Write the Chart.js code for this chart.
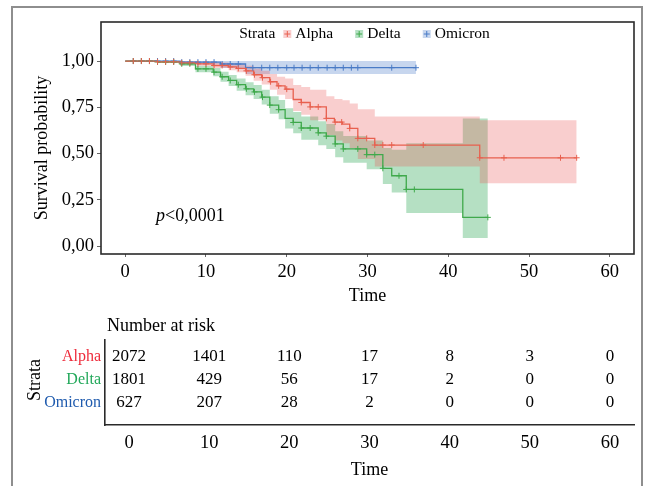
<!DOCTYPE html>
<html><head><meta charset="utf-8">
<script src="https://cdn.jsdelivr.net/npm/chart.js@4.4.1/dist/chart.umd.min.js"></script>
<style>
html,body{margin:0;padding:0;background:#fff;width:649px;height:486px;overflow:hidden;}
#frame{position:absolute;left:11px;top:6px;width:628px;height:600px;border:2px solid #8e8e8e;}
#c1{position:absolute;left:0;top:0;width:649px;height:310px;}
#c2{position:absolute;left:0;top:310px;width:649px;height:176px;}
</style></head><body>
<div id="frame"></div>
<canvas id="c1" width="649" height="310"></canvas>
<canvas id="c2" width="649" height="176"></canvas>
<script>
// ---------------- data ----------------
const strata = ['Alpha', 'Delta', 'Omicron'];
const xTicks = [0, 10, 20, 30, 40, 50, 60];
const yTicks = [0, 0.25, 0.5, 0.75, 1];

const alphaTime  = [0, 4, 7, 9, 10.9, 12.8, 13.8, 14.9, 15.9, 16.9, 17.9, 18.8, 19.8, 20.8, 21.8, 22.9, 24.9, 25.9, 26.9, 27.8, 28.8, 30.9, 43.9];
const alphaSurv  = [1, 0.996, 0.99, 0.985, 0.976, 0.968, 0.96, 0.947, 0.926, 0.91, 0.888, 0.866, 0.848, 0.792, 0.776, 0.752, 0.69, 0.67, 0.659, 0.636, 0.582, 0.546, 0.477];
const alphaUpper = [1, 1, 1, 0.998, 0.992, 0.987, 0.982, 0.975, 0.96, 0.948, 0.93, 0.915, 0.905, 0.87, 0.86, 0.845, 0.81, 0.795, 0.788, 0.77, 0.74, 0.70, 0.68];
const alphaLower = [1, 0.99, 0.982, 0.975, 0.962, 0.95, 0.94, 0.92, 0.893, 0.873, 0.845, 0.818, 0.795, 0.73, 0.71, 0.68, 0.60, 0.57, 0.555, 0.53, 0.47, 0.43, 0.339];
const alphaEnd = 55.9;
const alphaCensor = [1, 2, 3, 4, 5, 6, 7, 8, 9, 10, 11, 12, 13, 14, 15, 16, 17, 18, 19, 20, 21.8, 22.9, 23.9, 24.9, 26, 26.8, 27.8, 28.8, 29.9, 30.9, 31.9, 33, 36.9, 43.9, 46.9, 53.9, 55.9];

const deltaTime  = [0, 4, 6.8, 8.7, 10.9, 11.8, 12.8, 13.8, 14.9, 15.9, 16.9, 17.9, 19, 19.8, 20.8, 21.8, 23.9, 24.9, 26, 27, 29.9, 31.9, 33, 34.8, 41.8];
const deltaSurv  = [1, 0.995, 0.985, 0.958, 0.94, 0.915, 0.895, 0.872, 0.85, 0.833, 0.805, 0.762, 0.737, 0.69, 0.668, 0.638, 0.612, 0.594, 0.552, 0.525, 0.494, 0.42, 0.38, 0.306, 0.155];
const deltaUpper = [1, 1, 0.995, 0.975, 0.962, 0.942, 0.925, 0.905, 0.885, 0.87, 0.845, 0.81, 0.79, 0.745, 0.725, 0.70, 0.675, 0.66, 0.62, 0.595, 0.57, 0.53, 0.52, 0.555, 0.69];
const deltaLower = [1, 0.99, 0.973, 0.94, 0.918, 0.888, 0.865, 0.84, 0.815, 0.795, 0.765, 0.715, 0.685, 0.635, 0.61, 0.575, 0.545, 0.525, 0.48, 0.45, 0.415, 0.335, 0.29, 0.178, 0.043];
const deltaEnd = 44.9;
const deltaCensor = [1, 2, 3, 4, 5, 6, 7, 8, 9, 10, 11, 12, 13, 14, 15, 16, 17, 17.9, 19, 20.8, 21.8, 22.9, 23.9, 24.9, 26, 27, 28.8, 29.9, 30.9, 31.9, 33.9, 34.8, 35.8, 44.9];

const omicronTime  = [0, 6.8, 11.8, 14.9];
const omicronSurv  = [1, 0.994, 0.984, 0.964];
const omicronUpper = [1, 1, 1, 1];
const omicronLower = [1, 0.982, 0.962, 0.93];
const omicronEnd = 36;
const omicronCensor = [1, 2, 3, 4, 5, 6, 7, 8, 9, 10, 11, 12, 13, 14, 15.8, 16.9, 17.9, 18.9, 20, 20.9, 21.9, 22.9, 23.9, 25, 26, 27, 28, 28.8, 33, 36];

const riskTimes   = [0, 10, 20, 30, 40, 50, 60];
const alphaRisk   = [2072, 1401, 110, 17, 8, 3, 0];
const deltaRisk   = [1801, 429, 56, 17, 2, 0, 0];
const omicronRisk = [627, 207, 28, 2, 0, 0, 0];

const pValueLabel = ['p', '<0,0001'];
const legendTitle = 'Strata';

// ---------------- styles ----------------
const FONT = "'Liberation Serif', 'Times New Roman', serif";
const lineColors  = ['#E8604F', '#3FA94B', '#4A7BC6'];
const bandColors  = ['rgba(232,80,80,0.28)', 'rgba(50,170,90,0.36)', 'rgba(70,120,200,0.30)'];
const labelColors = ['#EE2B3B', '#22A85A', '#1F5BAE'];

const series = [
  {time: alphaTime, surv: alphaSurv, up: alphaUpper, lo: alphaLower, end: alphaEnd, cens: alphaCensor},
  {time: deltaTime, surv: deltaSurv, up: deltaUpper, lo: deltaLower, end: deltaEnd, cens: deltaCensor},
  {time: omicronTime, surv: omicronSurv, up: omicronUpper, lo: omicronLower, end: omicronEnd, cens: omicronCensor}
];
const riskRows = [alphaRisk, deltaRisk, omicronRisk];

function steps(times, vals, end) {
  return times.map((t, i) => ({x: t, y: vals[i]})).concat([{x: end, y: vals[vals.length - 1]}]);
}
function survAt(times, vals, t) {
  let v = vals[0];
  for (let i = 0; i < times.length; i++) if (times[i] <= t + 1e-9) v = vals[i];
  return v;
}

Chart.defaults.font.family = FONT;
Chart.defaults.color = '#000';

const datasets = [];
series.forEach((s, k) => {
  datasets.push({label: strata[k] + ' upper', data: steps(s.time, s.up, s.end), stepped: 'before',
    borderWidth: 0, pointRadius: 0, fill: '+1', backgroundColor: bandColors[k], order: 10});
  datasets.push({label: strata[k] + ' lower', data: steps(s.time, s.lo, s.end), stepped: 'before',
    borderWidth: 0, pointRadius: 0, fill: false, order: 10});
});
series.forEach((s, k) => {
  datasets.push({label: strata[k], data: steps(s.time, s.surv, s.end), stepped: 'before',
    borderColor: lineColors[k], borderWidth: 1.3, pointRadius: 0, fill: false, order: 5});
  datasets.push({label: strata[k] + ' censor', type: 'scatter', showLine: false,
    data: s.cens.map(t => ({x: t, y: survAt(s.time, s.surv, t)})),
    pointStyle: 'cross', pointRadius: 3, borderColor: lineColors[k], borderWidth: 1, order: 1});
});

const kmDecor = {
  id: 'kmDecor',
  afterDraw(chart) {
    const {ctx, chartArea: a} = chart;
    ctx.save();
    ctx.strokeStyle = '#2a2a2a'; ctx.lineWidth = 1.6;
    ctx.strokeRect(a.left, a.top, a.right - a.left, a.bottom - a.top);
    ctx.fillStyle = '#000';
    ctx.font = '18px ' + FONT;
    ctx.textAlign = 'center'; ctx.textBaseline = 'middle';
    ctx.translate(42, 148); ctx.rotate(-Math.PI / 2);
    ctx.fillText('Survival probability', 0, 0);
    ctx.setTransform(1, 0, 0, 1, 0, 0);
    ctx.textAlign = 'left';
    ctx.font = 'italic 18px ' + FONT;
    ctx.fillText(pValueLabel[0], 156, 216);
    const pw = ctx.measureText(pValueLabel[0]).width;
    ctx.font = '18px ' + FONT;
    ctx.fillText(pValueLabel[1], 156 + pw, 216);
    ctx.font = '15.5px ' + FONT;
    const ly = 34, sw = 8, gapKey = 4, gapItem = 22, gapTitle = 8;
    let total = ctx.measureText(legendTitle).width + gapTitle;
    strata.forEach((n, i) => { total += sw + gapKey + ctx.measureText(n).width + (i < strata.length - 1 ? gapItem : 0); });
    let x = (a.left + a.right) / 2 - total / 2 - 3;
    ctx.fillText(legendTitle, x, ly);
    x += ctx.measureText(legendTitle).width + gapTitle;
    strata.forEach((n, i) => {
      ctx.fillStyle = bandColors[i];
      ctx.fillRect(x, ly - sw / 2, sw, sw);
      ctx.strokeStyle = lineColors[i]; ctx.lineWidth = 1;
      ctx.beginPath();
      ctx.moveTo(x + 1, ly); ctx.lineTo(x + sw - 1, ly);
      ctx.moveTo(x + sw / 2, ly - 3); ctx.lineTo(x + sw / 2, ly + 3);
      ctx.stroke();
      x += sw + gapKey;
      ctx.fillStyle = '#000';
      ctx.fillText(n, x, ly);
      x += ctx.measureText(n).width + gapItem;
    });
    ctx.restore();
  }
};

new Chart(document.getElementById('c1'), {
  type: 'line',
  data: {datasets},
  options: {
    responsive: false, animation: false, devicePixelRatio: 1,
    layout: {padding: {left: 0, top: 22, right: 15, bottom: 0}},
    plugins: {legend: {display: false}, tooltip: {enabled: false}, filler: {drawTime: 'beforeDatasetsDraw'}},
    scales: {
      x: {type: 'linear', min: -3, max: 63,
        afterBuildTicks: s => { s.ticks = xTicks.map(v => ({value: v})); },
        afterFit: s => { s.height = 56; },
        grid: {display: true, drawOnChartArea: false, drawTicks: true, tickLength: 3, color: '#666'},
        border: {display: false},
        ticks: {font: {size: 18.5}, padding: 4, color: '#000', maxRotation: 0},
        title: {display: true, text: 'Time', font: {size: 18}, padding: {top: 0, bottom: 3}, color: '#000'}
      },
      y: {type: 'linear', min: -0.043, max: 1.211,
        afterBuildTicks: s => { s.ticks = yTicks.map(v => ({value: v})); },
        afterFit: s => { s.width = 101; },
        grid: {display: true, drawOnChartArea: false, drawTicks: true, tickLength: 4, color: '#666'},
        border: {display: false},
        ticks: {font: {size: 18.5}, padding: 3, color: '#000',
          callback: v => v.toFixed(2).replace('.', ',')}
      }
    }
  },
  plugins: [kmDecor]
});

// ---------------- risk table ----------------
const riskDatasets = riskRows.map((r, k) => ({
  label: strata[k], data: riskTimes.map((t, i) => ({x: t, y: k})), pointRadius: 0, showLine: false
}));

const tableDecor = {
  id: 'tableDecor',
  afterDatasetsDraw(chart) {
    const ctx = chart.ctx;
    ctx.save();
    ctx.fillStyle = '#000';
    ctx.font = '17px ' + FONT;
    ctx.textAlign = 'center'; ctx.textBaseline = 'middle';
    chart.data.datasets.forEach((d, k) => {
      const meta = chart.getDatasetMeta(k);
      meta.data.forEach((pt, i) => { ctx.fillText(String(riskRows[k][i]), pt.x, pt.y); });
    });
    ctx.font = '18px ' + FONT;
    ctx.textAlign = 'left';
    ctx.fillText('Number at risk', 107, 16);
    ctx.textAlign = 'center';
    ctx.translate(35, 70); ctx.rotate(-Math.PI / 2);
    ctx.fillText('Strata', 0, 0);
    ctx.restore();
  }
};

new Chart(document.getElementById('c2'), {
  type: 'scatter',
  data: {datasets: riskDatasets},
  options: {
    responsive: false, animation: false, devicePixelRatio: 1,
    layout: {padding: {left: 0, top: 30, right: 15, bottom: 0}},
    plugins: {legend: {display: false}, tooltip: {enabled: false}},
    scales: {
      x: {type: 'linear', min: -3, max: 63,
        afterBuildTicks: s => { s.ticks = xTicks.map(v => ({value: v})); },
        afterFit: s => { s.height = 61; },
        grid: {display: false, drawTicks: false},
        border: {display: true, color: '#2a2a2a', width: 1.6},
        ticks: {font: {size: 18.5}, padding: 7, color: '#000', maxRotation: 0},
        title: {display: true, text: 'Time', font: {size: 18}, padding: {top: 0, bottom: 5}, color: '#000'}
      },
      y: {type: 'linear', reverse: true, min: -0.72, max: 2.976,
        afterBuildTicks: s => { s.ticks = strata.map((n, i) => ({value: i})); },
        afterFit: s => { s.width = 105; },
        grid: {display: false, drawTicks: false},
        border: {display: true, color: '#2a2a2a', width: 1.6},
        ticks: {font: {size: 16}, padding: 4,
          color: c => labelColors[c.index],
          callback: v => strata[v]}
      }
    }
  },
  plugins: [tableDecor]
});
</script>
</body></html>
